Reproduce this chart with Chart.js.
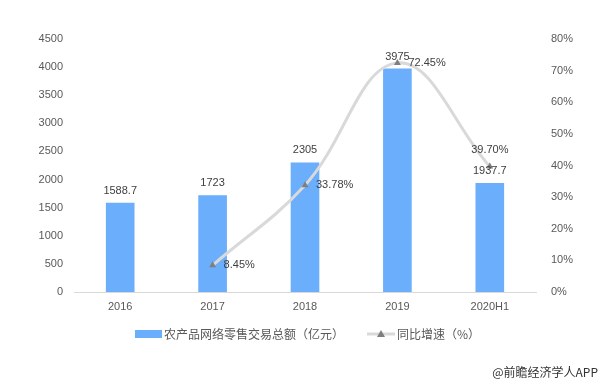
<!DOCTYPE html>
<html><head><meta charset="utf-8">
<script src="https://cdn.jsdelivr.net/npm/chart.js@4/dist/chart.umd.min.js"></script>
<style>html,body{margin:0;padding:0;background:#fff}#wrap{width:604px;height:384px;position:relative}</style>
</head><body><div id="wrap"><canvas id="c" width="604" height="384"></canvas></div>
<script>
const categories = ['2016','2017','2018','2019','2020H1'];
const salesValues = [1588.7, 1723, 2305, 3975, 1937.7];
const growthValues = [null, 8.45, 33.78, 72.45, 39.70];
const salesLabel = '农产品网络零售交易总额（亿元）';
const growthLabel = '同比增速（%）';
const footerText = '@前瞻经济学人APP';

const FONT = '"Liberation Sans", "Noto Sans CJK SC", sans-serif';
const CJK = '"Noto Sans CJK SC", "Liberation Sans", sans-serif';
const TXT = '#595959';

const labelsPlugin = {
  id: 'labelsPlugin',
  afterDatasetsDraw(chart) {
    const ctx = chart.ctx;
    ctx.save();
    ctx.font = '11px ' + FONT;
    ctx.fillStyle = '#404040';
    const barMeta = chart.getDatasetMeta(1);
    barMeta.data.forEach((el, i) => {
      ctx.textAlign = 'center'; ctx.textBaseline = 'middle';
      ctx.fillText(String(salesValues[i]), el.x, el.y - 12);
    });
    const lineMeta = chart.getDatasetMeta(0);
    lineMeta.data.forEach((el, i) => {
      const v = growthValues[i];
      if (v === null) return;
      const t = v.toFixed(2) + '%';
      if (i === categories.length - 1) {
        ctx.textAlign = 'center'; ctx.textBaseline = 'middle';
        ctx.fillText(t, el.x, el.y - 16);
      } else {
        ctx.textAlign = 'left'; ctx.textBaseline = 'middle';
        ctx.fillText(t, el.x + 11, el.y);
      }
    });
    // legend
    const ly = 334;
    ctx.fillStyle = '#6aaefc';
    ctx.fillRect(135, ly - 4, 27, 8);
    ctx.font = '12px ' + CJK;
    ctx.fillStyle = TXT;
    ctx.textAlign = 'left'; ctx.textBaseline = 'middle';
    ctx.fillText(salesLabel, 164, ly);
    ctx.strokeStyle = '#d9d9d9'; ctx.lineWidth = 3;
    ctx.beginPath(); ctx.moveTo(367, ly); ctx.lineTo(395, ly); ctx.stroke();
    ctx.fillStyle = '#7f7f7f';
    ctx.beginPath(); ctx.moveTo(381, ly - 4); ctx.lineTo(385, ly + 3); ctx.lineTo(377, ly + 3); ctx.closePath(); ctx.fill();
    ctx.fillStyle = TXT;
    ctx.fillText(growthLabel, 397, ly);
    // footer
    ctx.fillStyle = '#333333';
    ctx.font = '12px ' + CJK;
    ctx.textAlign = 'right';
    ctx.fillText(footerText, 598, 372);
    ctx.restore();
  }
};

new Chart(document.getElementById('c'), {
  data: {
    labels: categories,
    datasets: [
      { type: 'line', label: growthLabel, data: growthValues, yAxisID: 'y1', order: 0,
        borderColor: '#d9d9d9', borderWidth: 3, tension: 0.4, spanGaps: false,
        pointStyle: 'triangle', pointRadius: 4, pointBackgroundColor: '#7f7f7f', pointBorderColor: '#7f7f7f', pointBorderWidth: 0 },
      { type: 'bar', label: salesLabel, data: salesValues, yAxisID: 'y', order: 1,
        backgroundColor: '#6aaefc', barPercentage: 0.62, categoryPercentage: 0.5 }
    ]
  },
  options: {
    responsive: false, animation: false,
    layout: { padding: { top: 39, bottom: 0, left: 0, right: 0 } },
    plugins: { legend: { display: false }, tooltip: { enabled: false } },
    scales: {
      x: { grid: { display: false, drawTicks: false }, border: { color: '#d9d9d9' },
        ticks: { color: TXT, font: { size: 11, family: FONT }, padding: 8 },
        afterFit(s) { s.height = 92; } },
      y: { position: 'left', min: 0, max: 4500, grid: { display: false, drawTicks: false }, border: { display: false },
        ticks: { stepSize: 500, color: TXT, font: { size: 11, family: FONT }, padding: 11, callback: v => String(v) },
        afterFit(s) { s.width = 74; } },
      y1: { position: 'right', min: 0, max: 80, grid: { display: false, drawTicks: false }, border: { display: false },
        ticks: { stepSize: 10, color: TXT, font: { size: 11, family: FONT }, padding: 15, callback: v => v + '%' },
        afterFit(s) { s.width = 68; } }
    }
  },
  plugins: [labelsPlugin]
});
</script></body></html>
